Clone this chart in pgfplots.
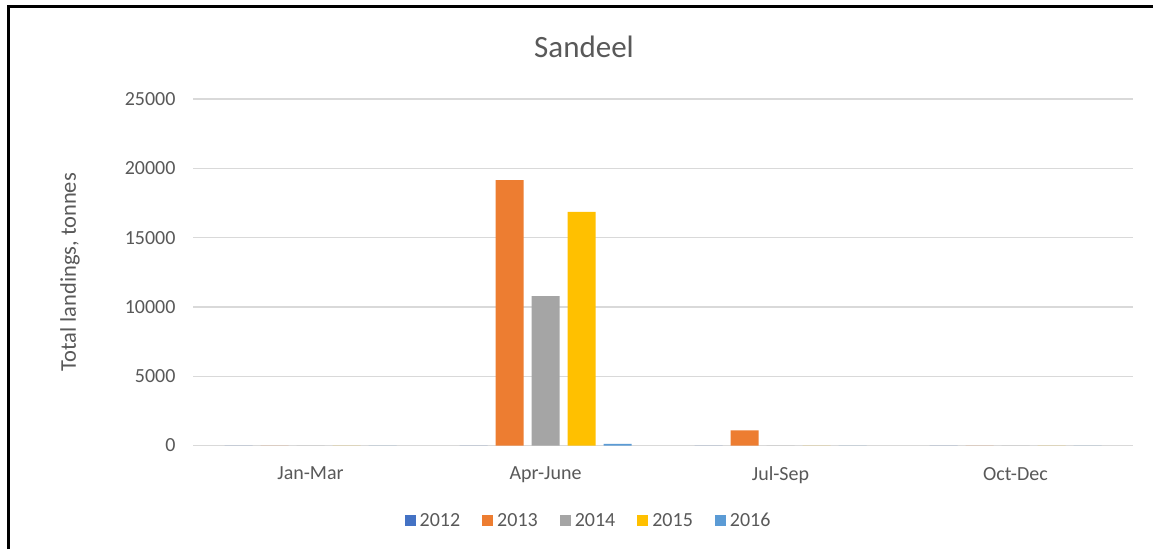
\documentclass[border=0pt]{standalone}
\usepackage{pgfplots}
\pgfplotsset{compat=1.18}
\usepackage{fontspec}
\setmainfont{Carlito}
\definecolor{txt}{HTML}{595959}
\definecolor{gridc}{HTML}{D9D9D9}
\definecolor{c12}{HTML}{4472C4}
\definecolor{c13}{HTML}{ED7D31}
\definecolor{c14}{HTML}{A5A5A5}
\definecolor{c15}{HTML}{FFC000}
\definecolor{c16}{HTML}{5B9BD5}
\begin{document}
\begin{tikzpicture}
\useasboundingbox (0,0) rectangle (1153pt,549pt);
\fill[white] (0,0) rectangle (1153pt,549pt);
\draw[black, line width=3pt] (8pt,0pt) -- (8pt,542pt) -- (1153pt,542pt);
\node[text=txt, font=\fontsize{31}{36}\selectfont] at (584pt,502pt) {Sandeel};
\begin{axis}[
  at={(193pt,103.5pt)}, anchor=south west,
  scale only axis, width=940pt, height=346.5pt,
  xmin=-0.5, xmax=3.5, ymin=0, ymax=25000,
  ybar=8pt, bar width=28pt,
  xtick={0,1,2,3},
  xticklabels={Jan-Mar,Apr-June,Jul-Sep,Oct-Dec},
  ytick={0,5000,10000,15000,20000,25000},
  major tick length=0pt,
  axis line style={draw=none},
  xmajorgrids=false, ymajorgrids=true,
  y grid style={draw=gridc, line width=1.3pt},
  tick label style={text=txt, font=\fontsize{20}{24}\selectfont},
  /pgf/number format/assume math mode=true,
  /pgf/number format/1000 sep={},
  scaled y ticks=false,
  xticklabel style={yshift=-18pt},
  yticklabel style={xshift=-14pt},
  ylabel={Total landings, tonnes},
  every axis y label/.style={at={(rel axis cs:0,0.5)}, rotate=90, anchor=center, yshift=123pt,
     text=txt, font=\fontsize{22.5}{26}\selectfont},
  legend columns=5,
  legend style={draw=none, fill=none, at={(0.4208,-0.216)}, anchor=center,
    font=\fontsize{20}{24}\selectfont, text=txt,
    /tikz/every odd column/.append style={column sep=2pt},
    /tikz/every even column/.append style={column sep=20pt}},
  legend image code/.code={\fill[#1] (0pt,-5.5pt) rectangle (11pt,5.5pt);},
]
\addplot[fill=c12, draw=none] coordinates {(0,0) (1,0) (2,0) (3,0)};
\addplot[fill=c13, draw=none] coordinates {(0,0) (1,19150) (2,1100) (3,0)};
\addplot[fill=c14, draw=none] coordinates {(0,0) (1,10780) (2,0) (3,0)};
\addplot[fill=c15, draw=none] coordinates {(0,0) (1,16850) (2,0) (3,0)};
\addplot[fill=c16, draw=none] coordinates {(0,0) (1,110) (2,0) (3,0)};
\legend{2012,2013,2014,2015,2016}
\end{axis}
\end{tikzpicture}
\end{document}
